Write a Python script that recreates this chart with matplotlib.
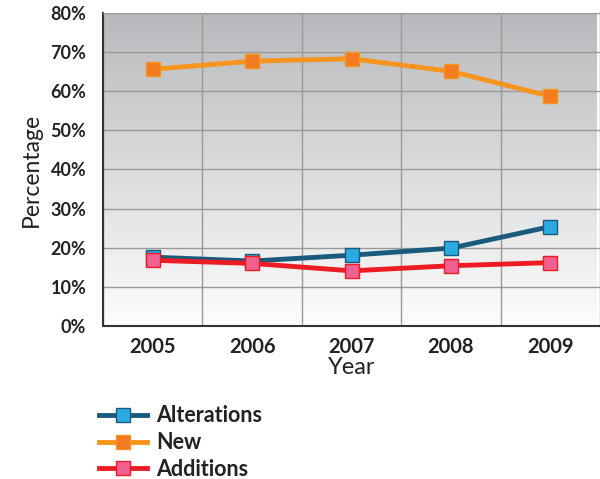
import matplotlib
matplotlib.use("Agg")
import matplotlib.pyplot as plt
import numpy as np
from matplotlib.ticker import FuncFormatter

years = ["2005", "2006", "2007", "2008", "2009"]
alterations = [17.6, 16.6, 18.1, 19.9, 25.4]
new = [65.6, 67.7, 68.3, 65.1, 58.7]
additions = [16.8, 16.0, 14.1, 15.4, 16.2]

plt.rcParams["font.family"] = ["Lato", "DejaVu Sans"]

fig = plt.figure(figsize=(6, 4.79), dpi=100)
ax = fig.add_axes([0.1717, 0.3194, 0.8283, 0.6535])

x = np.arange(len(years))
ax.set_xlim(-0.5, 4.47)
ax.set_ylim(0, 80)

# gradient background: grey at top fading to white
grad = np.linspace(0, 1, 256).reshape(-1, 1)
ax.imshow(grad, cmap=matplotlib.colors.LinearSegmentedColormap.from_list(
    "bg", ["#fdfdfd", "#b8b9bc"]), aspect="auto", origin="lower",
    extent=(-0.5, 4.47, 0, 80), zorder=0)

ax.set_xticks(np.arange(-0.5, 4.6, 1), minor=True)
ax.set_xticks(x)
ax.set_xticklabels(years, fontsize=14.5, fontweight="bold", color="#222222")
ax.set_yticks(np.arange(0, 81, 10))
ax.yaxis.set_major_formatter(FuncFormatter(lambda v, p: f"{v:.0f}%"))
ax.tick_params(axis="y", labelsize=13, length=0, pad=12, colors="#222222")
ax.tick_params(axis="x", which="both", length=0, pad=8)
for lab in ax.get_yticklabels():
    lab.set_fontweight("bold")
ax.grid(True, axis="y", color="#999999", linewidth=1, zorder=1)
ax.grid(True, axis="x", which="minor", color="#999999", linewidth=1, zorder=1)

for s in ["left", "bottom"]:
    ax.spines[s].set_color("#333333")
    ax.spines[s].set_linewidth(1.5)
ax.spines["top"].set_color("#999999")
ax.spines["right"].set_visible(False)

ms = 9.5
ax.plot(x, alterations, color="#1a5a7c", lw=3.5, marker="s", ms=ms,
        mfc="#29abe2", mec="#1a5a7c", mew=1, label="Alterations", zorder=3)
ax.plot(x, new, color="#f7941d", lw=3.5, marker="s", ms=ms,
        mfc="#f47b20", mec="#f7941d", mew=1, label="New", zorder=3)
ax.plot(x, additions, color="#ed1c24", lw=3.5, marker="s", ms=ms,
        mfc="#f06090", mec="#ed1c24", mew=1, label="Additions", zorder=4)

ax.set_ylabel("Percentage", fontsize=16.5, color="#222222", labelpad=6)
ax.set_xlabel("Year", fontsize=17, color="#222222", labelpad=0)

leg = ax.legend(loc="upper left", bbox_to_anchor=(-0.025, -0.226), frameon=False,
                fontsize=15.5, handlelength=2.2, handletextpad=0.45,
                labelspacing=0.27, borderaxespad=0)
for t in leg.get_texts():
    t.set_fontweight("bold")
    t.set_color("#222222")

fig.savefig("out.png", dpi=100)
